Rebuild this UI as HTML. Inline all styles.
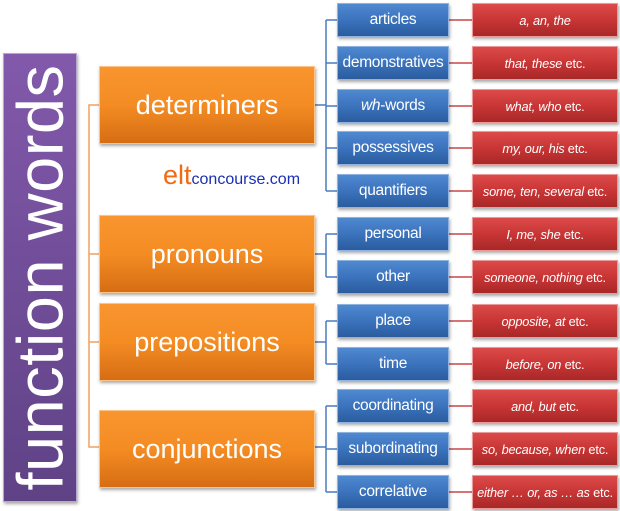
<!DOCTYPE html>
<html><head><style>
body{margin:0;width:620px;height:511px;background:#fff;position:relative;overflow:hidden;font-family:"Liberation Sans","DejaVu Sans",sans-serif}
.b{position:absolute;box-sizing:border-box;color:#fff;display:flex;align-items:center;justify-content:center;white-space:nowrap}
.p{background:linear-gradient(#8259ab,#5f4286);border:1px solid #b8a6d0;box-shadow:1px 2px 3px rgba(0,0,0,.35)}
.o{background:linear-gradient(#f9952f 0%,#f48c23 50%,#d66d14 100%);border:1px solid #fbc58a;box-shadow:1px 2px 3px rgba(0,0,0,.35);font-size:27px;left:99px;width:216px;height:78px}
.bl{background:linear-gradient(#4f89d0 0%,#3b73bd 50%,#2b5c9e 100%);border:1px solid #8fb2de;box-shadow:1px 2px 3px rgba(0,0,0,.35);font-size:15.5px;letter-spacing:-0.3px;left:337px;width:112px;height:34px}
.r{background:linear-gradient(#dc4a4a 0%,#c93535 50%,#a82828 100%);border:1px solid #eb9a9a;box-shadow:1px 2px 3px rgba(0,0,0,.35);font-size:12.8px;letter-spacing:-0.2px;left:472px;width:146px;height:34px}
i{font-style:italic}
</style></head><body>
<svg style="position:absolute;left:0;top:0" width="620" height="511">
<g stroke="#f0a060" stroke-width="1.5" fill="none">
<path d="M99 105H89V447H99M89 254H99M89 342H99"/>
</g>
<g stroke="#4a7cc0" stroke-width="1.5" fill="none">
<path d="M315 105H326M326 20V191M326 20H337M326 63H337M326 106H337M326 148H337M326 191H337"/>
<path d="M315 254H326M326 234V277M326 234H337M326 277H337"/>
<path d="M315 342H326M326 321V364M326 321H337M326 364H337"/>
<path d="M315 447H326M326 406V492M326 406H337M326 449H337M326 492H337"/>
</g>
<g stroke="#c84545" stroke-width="1.5">
<path d="M449 20H472M449 63H472M449 106H472M449 148H472M449 191H472M449 234H472M449 277H472M449 321H472M449 364H472M449 406H472M449 449H472M449 492H472"/>
</g>
</svg>
<div class="b p" style="left:3px;top:53px;width:74px;height:449px"><div style="transform:rotate(-90deg);font-size:65px;letter-spacing:0.5px">function words</div></div>
<div class="b o" style="top:66px">determiners</div>
<div class="b o" style="top:215px">pronouns</div>
<div class="b o" style="top:303px">prepositions</div>
<div class="b o" style="top:410px">conjunctions</div>
<div style="position:absolute;left:163px;top:160px;white-space:nowrap"><span style="color:#f26a12;font-size:27px">elt</span><span style="color:#1a2fb0;font-size:16px">concourse.com</span></div>
<div class="b bl" style="top:3px">articles</div>
<div class="b bl" style="top:46px">demonstratives</div>
<div class="b bl" style="top:89px"><i>wh</i>-words</div>
<div class="b bl" style="top:131px">possessives</div>
<div class="b bl" style="top:174px">quantifiers</div>
<div class="b bl" style="top:217px">personal</div>
<div class="b bl" style="top:260px">other</div>
<div class="b bl" style="top:304px">place</div>
<div class="b bl" style="top:347px">time</div>
<div class="b bl" style="top:389px">coordinating</div>
<div class="b bl" style="top:432px">subordinating</div>
<div class="b bl" style="top:475px">correlative</div>
<div class="b r" style="top:3px"><i>a, an, the</i></div>
<div class="b r" style="top:46px"><i>that, these</i>&nbsp;etc.</div>
<div class="b r" style="top:89px"><i>what, who</i>&nbsp;etc.</div>
<div class="b r" style="top:131px"><i>my, our, his</i>&nbsp;etc.</div>
<div class="b r" style="top:174px"><i>some, ten, several</i>&nbsp;etc.</div>
<div class="b r" style="top:217px"><i>I, me, she</i>&nbsp;etc.</div>
<div class="b r" style="top:260px"><i>someone, nothing</i>&nbsp;etc.</div>
<div class="b r" style="top:304px"><i>opposite, at</i>&nbsp;etc.</div>
<div class="b r" style="top:347px"><i>before, on</i>&nbsp;etc.</div>
<div class="b r" style="top:389px"><i>and, but</i>&nbsp;etc.</div>
<div class="b r" style="top:432px"><i>so, because, when</i>&nbsp;etc.</div>
<div class="b r" style="top:475px"><i>either … or, as … as</i>&nbsp;etc.</div>
</body></html>
